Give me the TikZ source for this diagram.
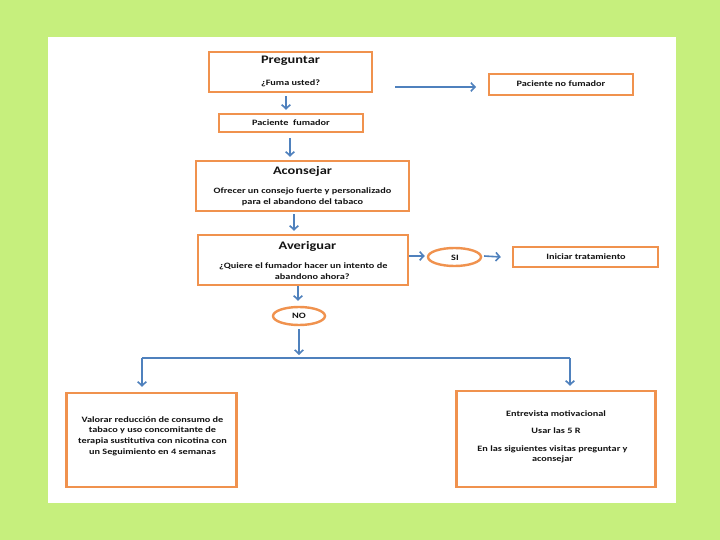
\documentclass[tikz,border=0pt]{standalone}
\usepackage{fontspec}
\setmainfont{Carlito}[FakeStretch=1.25]
\usetikzlibrary{arrows.meta,shapes.geometric}
\definecolor{bggreen}{RGB}{198,239,125}
\definecolor{boxorange}{RGB}{240,146,78}
\definecolor{arrowblue}{RGB}{79,129,189}
\definecolor{txt}{RGB}{20,20,20}
\begin{document}
\begin{tikzpicture}[x=1pt,y=-1pt,
  obox/.style={draw=boxorange,line width=2.4pt,fill=white,rectangle,inner sep=0pt},
  oell/.style={draw=boxorange,line width=2.4pt,fill=white,ellipse,inner sep=0pt},
  ttl/.style={font=\fontsize{11.5}{13}\selectfont\bfseries,text=txt,inner sep=0pt},
  body/.style={font=\fontsize{8.2}{10.8}\selectfont\bfseries,text=txt,inner sep=0pt,align=center},
  bline/.style={draw=arrowblue,line width=1.6pt},
  arr/.style={bline,-{Straight Barb[length=4pt,width=8.5pt]}}]
\useasboundingbox (0,0) rectangle (720,540);
\fill[bggreen] (0,0) rectangle (720,540);
\fill[white] (47.5,37.5) rectangle (676,503);

% boxes
\node[obox,minimum width=163pt,minimum height=40pt] (preg) at (290.5,72) {};
\node[obox,minimum width=144pt,minimum height=21pt] (nofum) at (561,84.5) {};
\node[obox,minimum width=144pt,minimum height=18pt] (fum) at (291,123) {};
\node[obox,minimum width=213pt,minimum height=50pt] (acon) at (302.5,186) {};
\node[obox,minimum width=210pt,minimum height=50pt] (aver) at (303,260) {};
\node[oell,minimum width=53pt,minimum height=18pt] (si) at (454.5,257) {};
\node[obox,minimum width=145pt,minimum height=20pt] (inic) at (585.5,257) {};
\node[oell,minimum width=52pt,minimum height=18pt] (no) at (299,316) {};
\node[obox,minimum width=170pt,minimum height=94pt] (valo) at (151.5,440) {};
\node[obox,minimum width=199pt,minimum height=96pt] (entr) at (556,439) {};

% texts
\node[ttl] (tpreg) at (290.5,61) {Preguntar};
\node[body] (tfuma) at (290.5,83) {¿Fuma usted?};
\node[body] (tnofum) at (561,84) {Paciente no fumador};
\node[body] (tfum) at (291,122.5) {Paciente\ \ fumador};
\node[ttl] (tacon) at (302.5,171) {Aconsejar};
\node[body] (tacb) at (302.5,196.5) {Ofrecer un consejo fuerte y personalizado\\para el abandono del tabaco};
\node[ttl] (taver) at (307.5,246) {Averiguar};
\node[body] (tavb) at (303.3,271.5) {¿Quiere el fumador hacer un intento de\\\hspace*{18pt}abandono ahora?};
\node[body] (tsi) at (455,257.5) {SI};
\node[body] (tinic) at (586,256.5) {Iniciar tratamiento};
\node[body] (tno) at (299,316) {NO};
\node[body,font=\fontsize{8.2}{10.7}\selectfont\bfseries] (tvalo) at (152.5,436) {Valorar reducción de consumo de\\tabaco y uso concomitante de\\terapia sustitutiva con nicotina con\\un Seguimiento en 4 semanas};
\node[body] (tentr1) at (556,413.3) {Entrevista motivacional};
\node[body] (tentr2) at (556,430.7) {Usar las 5 R};
\node[body,font=\fontsize{8.2}{10}\selectfont\bfseries] (tentr3) at (552.5,454) {En las siguientes visitas preguntar y\\aconsejar};

% connectors
\coordinate (a1) at (395,87);
\coordinate (a2) at (476,87);
\draw[arr] (a1) -- (a2);
\draw[arr] ([xshift=-4.5pt,yshift=-3pt]preg.south) -- ([xshift=-5pt,yshift=3pt]fum.north);
\draw[arr] ([xshift=-1pt,yshift=-5pt]fum.south) -- ([xshift=-12.5pt,yshift=3pt]acon.north);
\draw[arr] ([xshift=-8.5pt,yshift=-2pt]acon.south) -- ([xshift=-9pt,yshift=3pt]aver.north);
\draw[arr] ([yshift=4pt]aver.east) -- ([xshift=-2pt,yshift=1pt]si.west);
\draw[arr] ([xshift=2pt,yshift=1pt]si.east) -- ([xshift=-11pt]inic.west);
\draw[arr] ([xshift=-5pt]aver.south) -- ([xshift=-1pt,yshift=5pt]no.north);
\coordinate (split) at (299,358);
\coordinate (sl) at (142,358);
\coordinate (sr) at (570,358);
\draw[arr] ([yshift=-3pt]no.south) -- ([yshift=3pt]split);
\draw[bline] (sl) -- (sr);
\draw[arr] (sl) -- ([yshift=5pt]valo.north -| sl);
\draw[arr] (sr) -- ([yshift=4pt]entr.north -| sr);
\end{tikzpicture}
\end{document}
